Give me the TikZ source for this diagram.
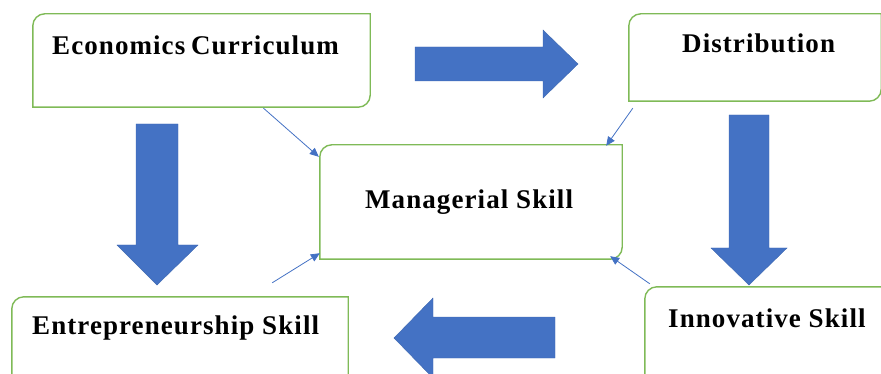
\documentclass[tikz,border=0pt]{standalone}
\usepackage{fontspec}
\setmainfont{Liberation Serif}[LetterSpace=4]
\usetikzlibrary{arrows.meta}

\definecolor{boxgreen}{RGB}{127,186,87}
\definecolor{arrowblue}{RGB}{68,114,196}

\tikzset{
  panel/.style={rectangle, inner sep=0pt, draw=none},
  panelline/.style={draw=boxgreen, line width=1.4pt},
  caption/.style={inner sep=0pt, anchor=base west, font=\fontsize{27}{30}\selectfont\bfseries},
  link/.style={draw=arrowblue, line width=0.8pt, -{Triangle[length=9pt,width=8pt]}},
  bigarrow/.style={fill=arrowblue, draw=arrowblue!90!black, line width=0.4pt}
}

% frame with two rounded corners (top left, bottom right)
\newcommand\panelframe[1]{%
  \draw[panelline] (#1.south west) -- ([yshift=-12pt]#1.north west)
    arc[start angle=180, end angle=90, radius=12pt] -- (#1.north east)
    -- ([yshift=12pt]#1.south east)
    arc[start angle=0, end angle=-90, radius=12pt] -- cycle;}

\begin{document}
\begin{tikzpicture}[x=1pt, y=-1pt]

\useasboundingbox (0,0) rectangle (881,374);
\clip (0,0) rectangle (881,374);

\node [panel, minimum width=337pt, minimum height=93pt]  (econ)  at (201.5,60.5) {};
\node [panel, minimum width=252pt, minimum height=87pt]  (dist)  at (755,57.5)   {};
\node [panel, minimum width=302pt, minimum height=114pt] (mgr)   at (471,202)    {};
\node [panel, minimum width=336pt, minimum height=103pt] (entre) at (180,348.5)  {};
\node [panel, minimum width=255pt, minimum height=113pt] (innov) at (772.5,343.5) {};

\panelframe{econ}
\panelframe{dist}
\panelframe{mgr}
\panelframe{entre}
\panelframe{innov}

\node [caption] (econtext)  at (52,55)  {Economics\hspace{-2pt} Curriculum};
\node [caption] (disttext)  at (682,53) {Distribution};
\node [caption] (mgrtext)   at (365,209) {Managerial Skill};
\node [caption] (entretext) at (32,334) {Entrepreneurship Skill};
\node [caption] (innovtext) at (668,327) {Innovative Skill};

% block arrows
\filldraw [bigarrow] (415,47) -- (543,47) -- (543,30) -- (578,64) -- (543,98) -- (543,81) -- (415,81) -- cycle;
\filldraw [bigarrow] (136,124) -- (178,124) -- (178,245) -- (198,245) -- (157,285) -- (117,245) -- (136,245) -- cycle;
\filldraw [bigarrow] (729,115) -- (769,115) -- (769,248) -- (787,248) -- (749,285) -- (711,248) -- (729,248) -- cycle;
\filldraw [bigarrow] (555,317) -- (433,317) -- (433,298) -- (394,338) -- (433,378) -- (433,358) -- (555,358) -- cycle;

% thin connectors
\draw [link] ([shift={(62,1)}]econ.south)      -- ([shift={(-1,12)}]mgr.north west);
\draw [link] ([shift={(4,7)}]dist.south west)   -- ([shift={(-16,1)}]mgr.north east);
\draw [link] ([shift={(-76,-14)}]entre.north east) -- ([shift={(0,-6)}]mgr.south west);
\draw [link] ([shift={(5,-3)}]innov.north west) -- ([shift={(-12,-3)}]mgr.south east);

\end{tikzpicture}
\end{document}
